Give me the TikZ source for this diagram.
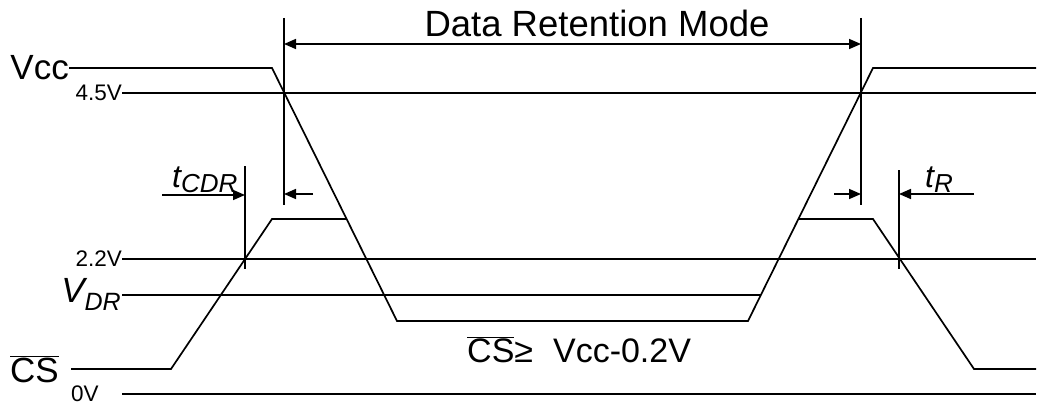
\documentclass[tikz,border=0pt]{standalone}
\usepackage{fontspec}
\setmainfont{Liberation Sans}
\usetikzlibrary{positioning}
\usetikzlibrary{arrows.meta}
\newcommand{\barcs}{\ensuremath{\overline{\mbox{CS}}}}
\tikzset{
  sig/.style = {line width=1.7pt, line join=miter},
  lvl/.style = {line width=1.6pt},
  vbar/.style = {line width=2.2pt},
  dim/.style = {line width=1.6pt, -{Triangle[length=12pt,width=10pt]}},
  big/.style = {inner sep=0pt, font=\fontsize{35}{37}\selectfont},
  small/.style = {inner sep=0pt, font=\fontsize{22.5}{24}\selectfont},
}
\begin{document}
\begin{tikzpicture}[x=1pt,y=-1pt]
		\useasboundingbox (0,0) rectangle (1039,404);
		\coordinate (vccL) at (70,68);
		\coordinate (vccA) at (272,68);
		\coordinate (vccB) at (397,321);
		\coordinate (vccC) at (748,321);
		\coordinate (vccD) at (873,68);
		\coordinate (vccR) at (1036,68);
		\coordinate (hiL) at (122,93);
		\coordinate (hiR) at (1036,93);
		\coordinate (midL) at (122,259);
		\coordinate (midR) at (1036,259);
		\coordinate (drL) at (122,295);
		\coordinate (drR) at (761,295);
		\coordinate (csL) at (71,369);
		\coordinate (csA) at (171,369);
		\coordinate (csB) at (272,219);
		\coordinate (csC) at (346,219);
		\coordinate (csD) at (798,219);
		\coordinate (csE) at (873,219);
		\coordinate (csF) at (974,369);
		\coordinate (csR) at (1036,369);
		\coordinate (gndL) at (122,394);
		\coordinate (gndR) at (1036,394);
		\coordinate (m1t) at (284,18);
		\coordinate (m1b) at (284,205);
		\coordinate (m2t) at (861,18);
		\coordinate (m2b) at (861,205);
		\coordinate (m3t) at (245,166);
		\coordinate (m3b) at (245,269);
		\coordinate (m4t) at (899,170);
		\coordinate (m4b) at (899,269);
		\coordinate (drmL) at (284,44);
		\coordinate (drmR) at (861,44);
		\coordinate (tcL) at (162,195);
		\coordinate (tcR) at (313,194);
		\coordinate (trL) at (834,194);
		\coordinate (trR) at (974,194);
		\node[big, left = 1pt of vccL] (vcc) {Vcc};
		\node[small, left = 0pt of hiL] (v45) {4.5V};
		\node[small, left = 0pt of midL] (v22) {2.2V};
		\node[inner sep=0pt, anchor=base east] at (121,302) (vdr) {\fontsize{35}{37}\selectfont\itshape V\raisebox{-8pt}{\fontsize{25}{27}\selectfont DR}};
		\node[big, anchor=base west] at (10,382) (cs) {\barcs};
		\node[small, anchor=base west] at (71,401) (v0) {0V};
		\node[inner sep=0pt, anchor=base] at (597,37) (drm) {\fontsize{36.5}{38}\selectfont Data Retention Mode};
		\node[big, anchor=base west] at (467,362) (cond) {\fontsize{34}{36}\selectfont\barcs≥\hspace{20pt}Vcc-0.2V};
		\node[inner sep=0pt, anchor=base west] at (172,187) (tcdr) {\fontsize{32}{34}\selectfont\itshape t\raisebox{-5pt}{\fontsize{26}{28}\selectfont CDR}};
		\node[inner sep=0pt, anchor=base west] at (925,187) (tr) {\fontsize{32}{34}\selectfont\itshape t\raisebox{-5pt}{\fontsize{26}{28}\selectfont R}};
		\draw[sig] (vcc.east) -- (vccA) -- (vccB) -- (vccC) -- (vccD) -- (vccR);
		\draw[lvl] (v45.east) -- (hiR);
		\draw[lvl] (v22.east) -- (midR);
		\draw[lvl] (drL) -- (drR);
		\draw[lvl] (gndL) -- (gndR);
		\draw[sig] (csL) -- (csA) -- (csB) -- (csC);
		\draw[sig] (csD) -- (csE) -- (csF) -- (csR);
		\draw[vbar] (m1t) -- (m1b);
		\draw[vbar] (m2t) -- (m2b);
		\draw[vbar] (m3t) -- (m3b);
		\draw[vbar] (m4t) -- (m4b);
		\draw[dim, {Triangle[length=12pt,width=10pt]}-{Triangle[length=12pt,width=10pt]}] (drmL) -- (drmR);
		\draw[dim] (tcL) -- (m3t |- tcL);
		\draw[dim] (tcR) -- (m1t |- tcR);
		\draw[dim] (trL) -- (m2t |- trL);
		\draw[dim] (trR) -- (m4t |- trR);
	\end{tikzpicture}
\end{document}
